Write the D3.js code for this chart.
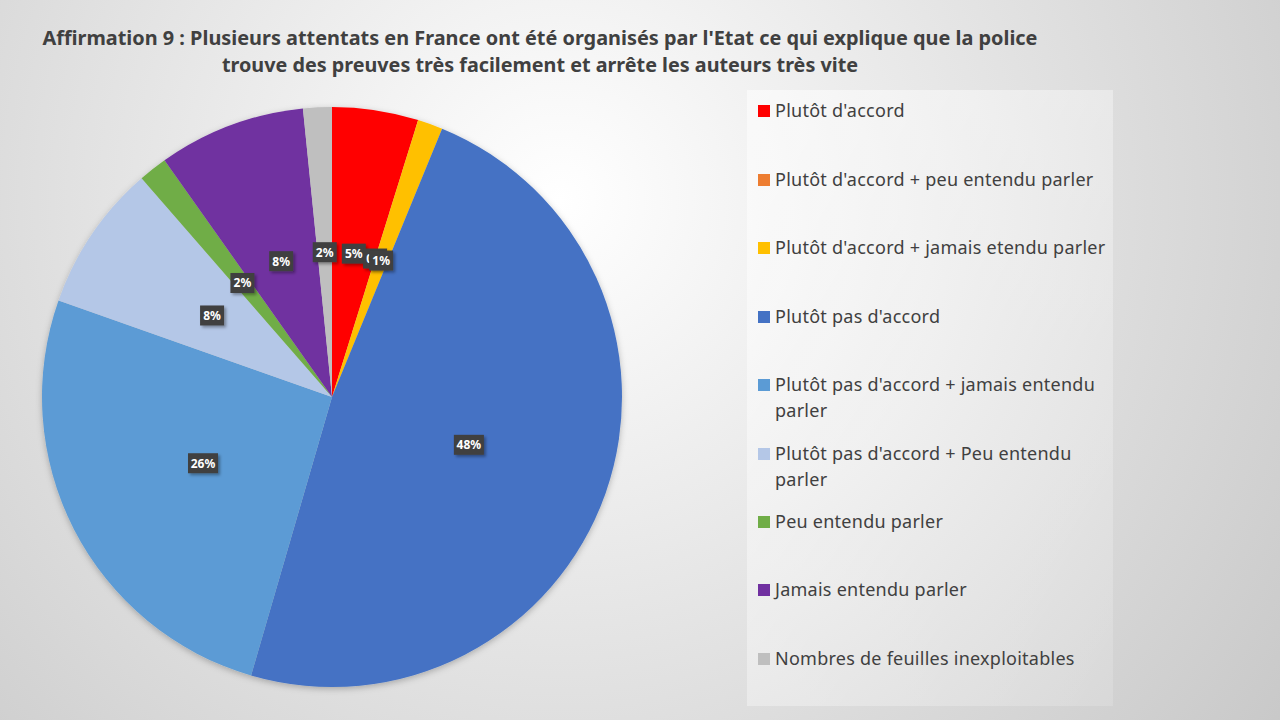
<!DOCTYPE html>
<html>
<head>
<meta charset="utf-8">
<style>
    body{
        margin: 0;
        overflow: hidden;
    }
    text{
        font-family: "Noto Sans", "Open Sans", sans-serif;
    }
</style>
</head>
<body>
<script src="https://d3js.org/d3.v7.min.js"></script>
<script>
// data (percent of answers)
var categories = ["Plutôt d'accord", "Plutôt d'accord + peu entendu parler", "Plutôt d'accord + jamais etendu parler",
    "Plutôt pas d'accord", "Plutôt pas d'accord + jamais entendu parler", "Plutôt pas d'accord + Peu entendu parler",
    "Peu entendu parler", "Jamais entendu parler", "Nombres de feuilles inexploitables"];
var values = [4.8, 0, 1.4, 48.3, 25.9, 8.2, 1.6, 8.2, 1.6];
var colors = ["#FF0000", "#ED7D31", "#FFC000", "#4472C4", "#5B9BD5", "#B4C7E7", "#70AD47", "#7030A0", "#BFBFBF"];
// legend lines (wrapped like the original)
var legendLines = [["Plutôt d'accord"], ["Plutôt d'accord + peu entendu parler"], ["Plutôt d'accord + jamais etendu parler"],
    ["Plutôt pas d'accord"], ["Plutôt pas d'accord + jamais entendu", "parler"], ["Plutôt pas d'accord + Peu entendu", "parler"],
    ["Peu entendu parler"], ["Jamais entendu parler"], ["Nombres de feuilles inexploitables"]];
var titleLines = ["Affirmation 9 : Plusieurs attentats en France ont été organisés par l'Etat ce qui explique que la police",
    "trouve des preuves très facilement et arrête les auteurs très vite"];

var width = 1280, height = 720;
var svg = d3.select("body").append("svg")
    .attr("width", width)
    .attr("height", height);

var defs = svg.append("defs");
var bg = defs.append("radialGradient")
    .attr("id", "bg")
    .attr("gradientUnits", "userSpaceOnUse")
    .attr("cx", 560).attr("cy", 200).attr("r", 900);
bg.append("stop").attr("offset", "0%").attr("stop-color", "#ffffff");
bg.append("stop").attr("offset", "100%").attr("stop-color", "#c8c8c8");

var lg = defs.append("linearGradient")
    .attr("id", "legbg")
    .attr("x1", 0).attr("y1", 0).attr("x2", 1).attr("y2", 1);
lg.append("stop").attr("offset", "0%").attr("stop-color", "#ffffff").attr("stop-opacity", 0.55);
lg.append("stop").attr("offset", "100%").attr("stop-color", "#ffffff").attr("stop-opacity", 0.15);

var shadow = defs.append("filter").attr("id", "shadow")
    .attr("x", "-30%").attr("y", "-30%").attr("width", "160%").attr("height", "160%");
shadow.append("feDropShadow")
    .attr("dx", 2).attr("dy", 2).attr("stdDeviation", 1.5)
    .attr("flood-color", "#000").attr("flood-opacity", 0.35);

var pieShadow = defs.append("filter").attr("id", "pieshadow")
    .attr("x", "-10%").attr("y", "-10%").attr("width", "120%").attr("height", "120%");
pieShadow.append("feDropShadow")
    .attr("dx", 0).attr("dy", 2).attr("stdDeviation", 3)
    .attr("flood-color", "#000").attr("flood-opacity", 0.25);

svg.append("rect")
    .attr("width", width).attr("height", height)
    .attr("fill", "url(#bg)");

// title
svg.selectAll(".title")
    .data(titleLines)
    .enter()
    .append("text")
    .attr("class", "title")
    .attr("x", 540)
    .attr("y", (d, i) => 45 + i * 27)
    .attr("text-anchor", "middle")
    .attr("font-weight", "bold")
    .attr("font-size", 20)
    .attr("fill", "#404040")
    .attr("textLength", (d, i) => i == 0 ? 995 : 636)
    .attr("lengthAdjust", "spacingAndGlyphs")
    .text(d => d);

// pie
var cx = 332, cy = 397, radius = 290;
var total = d3.sum(values);
var pie = d3.pie().sort(null).value(d => d);
var arc = d3.arc().innerRadius(0).outerRadius(radius);
var arcs = pie(values);

var g = svg.append("g")
    .attr("transform", "translate(" + cx + "," + cy + ")");

g.append("g")
    .attr("filter", "url(#pieshadow)")
    .selectAll("path")
    .data(arcs)
    .enter()
    .append("path")
    .attr("d", arc)
    .attr("fill", (d, i) => colors[i]);

// labels (dark boxes at half radius)
var fmt = d3.format(".0%");
var labels = g.selectAll(".lab")
    .data(arcs)
    .enter()
    .append("g")
    .attr("class", "lab")
    .attr("transform", d => {
        var c = arc.centroid(d);
        return "translate(" + c[0] + "," + c[1] + ")";
    });

labels.append("rect")
    .attr("x", d => fmt(d.data / total).length > 2 ? -15 : -12)
    .attr("y", -10)
    .attr("width", d => fmt(d.data / total).length > 2 ? 30 : 24)
    .attr("height", 20)
    .attr("fill", "#404040")
    .attr("filter", "url(#shadow)");

labels.append("text")
    .attr("text-anchor", "middle")
    .attr("dy", "0.36em")
    .attr("font-weight", "bold")
    .attr("font-size", 12)
    .attr("fill", "#ffffff")
    .text(d => fmt(d.data / total));

// legend
svg.append("rect")
    .attr("x", 747).attr("y", 90)
    .attr("width", 366).attr("height", 616)
    .attr("fill", "url(#legbg)");

var rowY = [111, 180, 248, 317, 385, 454, 522, 590, 659];
var leg = svg.selectAll(".leg")
    .data(categories)
    .enter()
    .append("g")
    .attr("class", "leg")
    .attr("transform", (d, i) => "translate(758," + rowY[i] + ")");

leg.append("rect")
    .attr("x", 0).attr("y", -6)
    .attr("width", 12).attr("height", 12)
    .attr("fill", (d, i) => colors[i]);

leg.each(function(d, i) {
    d3.select(this).selectAll("text")
        .data(legendLines[i])
        .enter()
        .append("text")
        .attr("x", 17)
        .attr("y", (t, j) => j * 26)
        .attr("dy", "0.35em")
        .attr("font-size", 18)
        .attr("letter-spacing", 0.25)
        .attr("fill", "#404040")
        .text(t => t);
});
</script>
</body>
</html>
